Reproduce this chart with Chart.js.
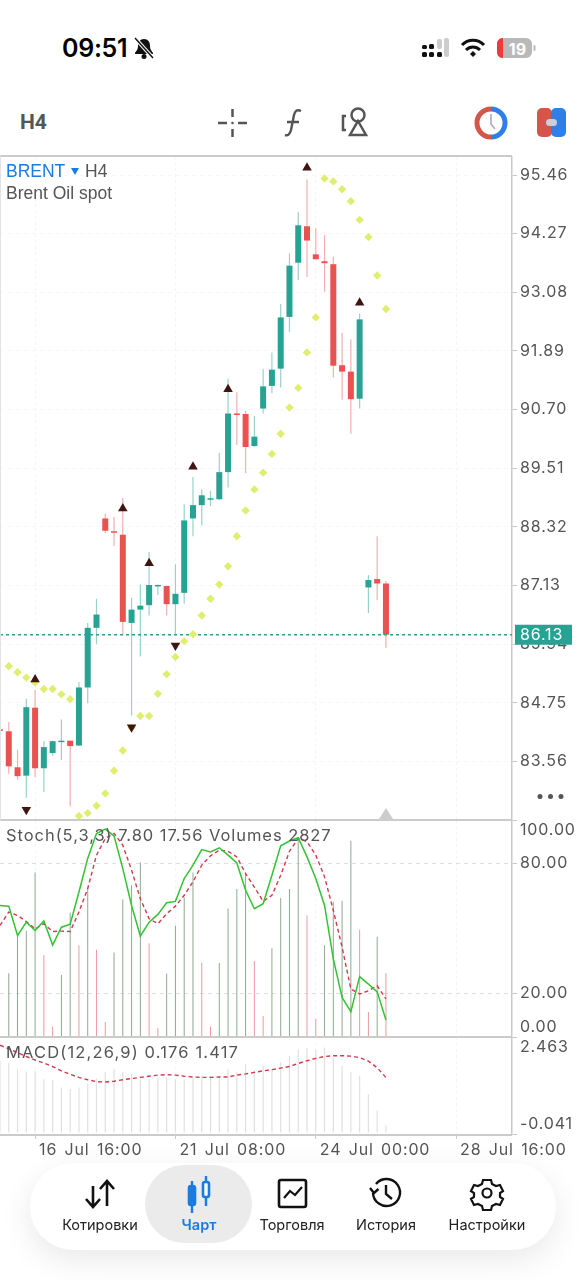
<!DOCTYPE html>
<html lang="ru">
<head>
<meta charset="utf-8">
<title>BRENT H4</title>
<script src="https://cdn.jsdelivr.net/npm/chart.js@4"></script>
<style>
  html, body { margin: 0; padding: 0; background: #fff; }
  body { position: relative; width: 588px; height: 1280px; overflow: hidden; font-family: "Liberation Sans", sans-serif; }
  canvas, .abs, svg.abs { position: absolute; }
  canvas { left: 0; display: block; }
  .hline { position: absolute; left: 0; width: 512px; height: 2px; background: #cbcbcb; }
  .panel-text { position: absolute; left: 6px; font: 16.5px Inter, sans-serif; color: #555; letter-spacing: .95px; white-space: pre; }
  .nav { position: absolute; left: 30px; top: 1163px; width: 526px; height: 87px; background: #fff; border-radius: 44px; box-shadow: 0 10px 32px rgba(0,0,0,.09); }
  .nav-sel { position: absolute; left: 145px; top: 1165px; width: 107px; height: 78px; background: #ebebeb; border-radius: 39px; }
  .nav-label { position: absolute; top: 1216px; font: 14.5px Inter, sans-serif; color: #222; transform: translateX(-50%); white-space: nowrap; }
</style>
</head>
<body>

<!-- status bar -->
<div class="abs" style="left:62px;top:33px;font:600 25px Inter,sans-serif;color:#000;letter-spacing:-.3px">09:51</div>
<svg class="abs" style="left:132px;top:36px" width="24" height="24" viewBox="0 0 24 24">
  <path d="M12 3c-4 0-6 3-6 7 0 4-2 5-3 7v1h18v-1c-1-2-3-3-3-7 0-4-2-7-6-7z" fill="#111"/>
  <circle cx="12" cy="20.5" r="2.5" fill="#111"/>
  <path d="M3 2l18 20" stroke="#fff" stroke-width="3.5"/><path d="M3 2l18 20" stroke="#111" stroke-width="1.5"/>
</svg>
<svg class="abs" style="left:420px;top:36px" width="120" height="24" viewBox="420 36 120 24">
  <rect x="422" y="45" width="5" height="4" rx="1.5" fill="#111"/><rect x="422" y="52" width="5" height="5" rx="1.5" fill="#111"/>
  <rect x="429" y="44" width="5" height="5" rx="1.5" fill="#111"/><rect x="429" y="52" width="5" height="5" rx="1.5" fill="#111"/>
  <rect x="437" y="39" width="5" height="10" rx="2" fill="#ccc"/><rect x="437" y="52" width="5" height="5" rx="1.5" fill="#111"/>
  <rect x="444" y="38" width="5" height="19" rx="2" fill="#ccc"/>
  <path d="M462 45c6-6.500 16-6.500 22 0" fill="none" stroke="#111" stroke-width="3"/>
  <path d="M466 50c4-4 10-4 14 0" fill="none" stroke="#111" stroke-width="3"/>
  <path d="M470 54l3-3 3 3-3 3z" fill="#111"/>
  <rect x="497" y="38" width="35" height="20" rx="6" fill="#b9b9b9"/>
  <path d="M503 38h-0c-4 0-6 3-6 6v8c0 3 2 6 6 6z" fill="#f03a3a"/>
  <rect x="533.500" y="45" width="2" height="6" rx="1" fill="#bbb"/>
</svg>
<div class="abs" style="left:503px;top:39px;width:29px;text-align:center;font:700 16px Inter,sans-serif;color:#fff">19</div>

<!-- toolbar -->
<div class="abs" style="left:20px;top:110px;font:700 21px Roboto,sans-serif;color:#555">H4</div>
<svg class="abs" style="left:210px;top:100px" width="370" height="46" viewBox="210 100 370 46" fill="none">
  <path d="M218 123h9M238 123h9M232.500 109v8M232.500 129v8" stroke="#555" stroke-width="2.500"/>
  <circle cx="232.500" cy="123" r="1.300" fill="#555"/>
  <path d="M301 111c-4-2-6 0-7 4l-3 15c-1 4-3 6-6 5M287 122h12" stroke="#555" stroke-width="2.400"/>
  <path d="M346 116h-3v14h3" stroke="#555" stroke-width="2.500"/>
  <circle cx="358" cy="115" r="6.500" stroke="#555" stroke-width="2.500"/>
  <path d="M358 121l8 14h-16z" stroke="#555" stroke-width="2.500" fill="#fff"/>
  <path d="M491 109a14 14 0 0 0 0 28" stroke="#d2564a" stroke-width="5"/>
  <path d="M491 109a14 14 0 0 1 0 28" stroke="#2f7fe8" stroke-width="5"/>
  <path d="M491 114v10l4 5" stroke="#aab" stroke-width="1.600"/>
  <rect x="537" y="108" width="15" height="29" rx="5" fill="#d2564a"/>
  <rect x="551" y="108" width="15" height="29" rx="5" fill="#2f7fe8"/>
  <rect x="546" y="119" width="11" height="7" rx="3.500" fill="#c9cfdb"/>
</svg>

<canvas id="priceChart" width="588" height="664" style="top:156px"></canvas>
<canvas id="stochChart" width="588" height="217" style="top:820px"></canvas>
<canvas id="macdChart" width="588" height="128" style="top:1037px"></canvas>

<div class="hline" style="top:155px"></div>
<div class="hline" style="top:819px"></div>
<div class="hline" style="top:1036px"></div>
<div class="hline" style="top:1134px"></div>
<div class="abs" style="left:0;top:156px;width:1px;height:664px;background:#e2e2e2"></div>

<!-- chart captions -->
<div class="abs" style="left:6px;top:161px;font:17.500px 'Liberation Sans',sans-serif;color:#1a7ce0;white-space:pre">BRENT</div>
<div class="abs" style="left:71px;top:168px;width:0;height:0;border-left:4px solid transparent;border-right:4px solid transparent;border-top:7px solid #1a7ce0"></div>
<div class="abs" style="left:85px;top:161px;font:17.500px 'Liberation Sans',sans-serif;color:#555">H4</div>
<div class="abs" style="left:6px;top:183px;font:17.500px 'Liberation Sans',sans-serif;color:#555">Brent Oil spot</div>
<div class="panel-text" style="top:825px">Stoch(5,3,3) 7.80 17.56 Volumes 2827</div>
<div class="panel-text" style="top:1042px;letter-spacing:1.15px">MACD(12,26,9) 0.176 1.417</div>
<svg class="abs" style="left:535px;top:790px" width="32" height="12"><circle cx="5" cy="6.500" r="2.500" fill="#555"/><circle cx="15.500" cy="6.500" r="2.500" fill="#555"/><circle cx="26" cy="6.500" r="2.500" fill="#555"/></svg>
<div class="abs" style="left:379px;top:808px;width:0;height:0;border-left:7px solid transparent;border-right:7px solid transparent;border-bottom:11px solid #ccc"></div>

<!-- bottom navigation -->
<div class="nav"></div>
<div class="nav-sel"></div>
<svg class="abs" style="left:70px;top:1170px" width="450" height="44" viewBox="70 1170 450 44" fill="none" stroke="#111" stroke-width="2.600">
  <path d="M93 1186v20M86 1199l7 8 7-8M107 1206v-24M100 1189l7-8 7 8"/>
  <path d="M192 1181v32M206 1176v30" stroke="#1a7ce0" stroke-width="2.400"/>
  <rect x="189" y="1186" width="6" height="19" rx="2" fill="#1a7ce0" stroke="#1a7ce0"/>
  <rect x="203" y="1182" width="6" height="15" rx="2" fill="#fff" stroke="#1a7ce0"/>
  <rect x="279" y="1180" width="27" height="27" rx="2"/>
  <path d="M284 1198l6-7 5 4 7-8" stroke-width="2.200"/>
  <path d="M376 1184a13.500 13.500 0 1 1-3 9M370 1188l4 5 4.500-4M386 1185v9l6 5" stroke-width="2.400"/>
  <circle cx="487" cy="1193" r="4.500" stroke-width="2.200"/>
  <path d="M483 1180h8l1 4 4 2 4-1 3 6-3 2v4l3 2-3 6-4-1-4 2-1 4h-8l-1-4-4-2-4 1-3-6 3-2v-4l-3-2 3-6 4 1 4-2z" stroke-width="2.200"/>
</svg>
<div class="nav-label" style="left:100px">Котировки</div>
<div class="nav-label" style="left:199px;color:#1a7ce0;font-weight:600">Чарт</div>
<div class="nav-label" style="left:292px">Торговля</div>
<div class="nav-label" style="left:386px">История</div>
<div class="nav-label" style="left:487px">Настройки</div>

<script>
/* ---------- price panel data ---------- */
const opens  = [84.20,84.17,83.44,83.27,84.65,83.42,83.73,83.95,83.98,83.88,85.06,86.27,88.49,88.22,88.16,86.37,86.64,86.73,87.11,87.12,86.75,86.98,88.49,88.76,88.87,88.88,89.43,90.62,90.61,89.96,90.72,91.18,91.53,92.58,93.68,94.42,93.85,93.71,93.65,91.60,91.47,90.92,87.09,87.26,87.17];
const highs  = [84.22,84.36,83.80,84.83,85.01,83.97,83.98,84.41,83.98,85.17,86.37,86.86,88.59,88.52,88.91,86.88,87.15,87.81,87.15,87.13,87.56,88.78,89.33,89.08,89.05,89.82,91.33,91.05,90.67,90.57,91.53,91.86,92.84,93.87,94.71,95.37,94.38,94.24,93.80,92.26,92.12,92.65,87.34,88.13,87.22];
const lows   = [84.16,83.31,83.19,82.82,83.24,82.94,83.68,83.59,82.65,83.88,84.74,85.94,88.19,87.93,86.12,84.49,85.69,86.52,86.93,86.52,86.12,86.76,88.13,88.35,88.74,88.86,89.12,89.98,89.41,89.94,90.62,91.03,91.15,92.27,93.33,93.39,93.75,93.09,91.35,90.90,90.21,90.72,86.57,86.83,85.86];
const closes = [84.18,83.46,83.26,84.66,83.42,83.85,83.97,83.98,83.87,85.06,86.27,86.54,88.24,88.20,86.39,86.64,86.72,87.14,87.13,86.75,86.96,88.45,88.76,88.96,88.89,89.43,90.62,90.59,89.94,90.15,91.17,91.51,92.57,93.62,94.44,94.13,93.75,93.67,91.59,91.47,90.91,92.53,87.24,87.17,86.13];
const sar    = [null,85.49,85.37,85.26,85.16,85.03,85.03,84.92,84.82,82.45,82.51,82.66,82.91,83.37,83.78,84.24,84.48,84.48,84.93,85.33,85.68,86.00,86.14,86.52,86.86,87.15,87.52,88.13,88.65,89.08,89.42,89.80,90.21,90.74,91.14,91.86,92.57,95.39,95.33,95.17,94.93,94.55,94.20,93.42,92.74];
const fractalUpIndex   = [4,14,17,22,26,35,41];
const fractalUpValue   = [85.22,88.69,87.58,89.54,91.11,95.61,92.87];
const fractalDownIndex = [3,15,20];
const fractalDownValue = [82.58,84.25,85.91];
const lastPrice  = 86.13;
const priceTicks = [95.46,94.27,93.08,91.89,90.70,89.51,88.32,87.13,85.94,84.75,83.56];

/* ---------- stochastic + volumes ---------- */
const stochMain   = [60.6,60.3,46.8,52.9,49.1,53.5,42.4,50.6,52.0,66.8,82.3,93.8,95.8,92.7,77.6,60.6,46.5,52.9,56.5,61.9,62.5,73.0,79.2,86.4,85.3,87.2,83.8,80.2,67.6,59.1,61.4,74.5,88.1,90.3,91.8,83.0,73.0,60.6,36.0,18.2,11.7,27.8,24.4,20.8,7.80];
const stochSignal = [51.4,57.6,56.0,53.2,49.8,52.2,48.6,48.8,48.6,57.6,68.4,83.8,91.5,93.8,88.4,76.9,63.7,54.5,52.2,56.8,60.3,65.3,71.5,79.2,83.5,86.1,85.6,83.0,75.3,69.1,62.5,65.3,74.5,85.6,91.5,90.0,83.8,73.8,58.3,41.4,22.1,19.8,21.3,23.6,17.56];
const volumes = [null,2827,4514,4706,7296,3626,459,2753,5520,4070,6630,3863,666,3744,6112,6734,7740,4159,385,2812,4928,6186,7296,3300,459,3286,5698,6556,7222,3374,932,3937,6157,6556,8850,5402,814,4070,5994,6038,8702,4751,1110,4440,2827];
const stochTicks = [100,80,20,0];

/* ---------- macd ---------- */
const macdBars   = [1.85,1.80,1.63,1.57,1.59,1.37,1.36,1.16,1.12,1.16,1.25,1.39,1.55,1.63,1.56,1.50,1.37,1.37,1.42,1.42,1.37,1.37,1.42,1.46,1.46,1.46,1.63,1.55,1.76,1.59,1.72,1.63,1.82,1.97,2.15,2.17,2.15,2.19,1.93,1.72,1.56,1.46,0.99,0.56,0.176];
const macdSignal = [2.25,2.16,2.06,1.96,1.87,1.79,1.70,1.59,1.50,1.42,1.36,1.31,1.30,1.32,1.36,1.39,1.42,1.45,1.48,1.49,1.48,1.45,1.43,1.42,1.42,1.43,1.43,1.48,1.51,1.55,1.59,1.62,1.66,1.70,1.78,1.85,1.91,1.96,1.98,1.98,1.97,1.93,1.84,1.67,1.417];
const macdTicks  = [2.463,-0.041];

/* ---------- time axis ---------- */
const xTickIndex  = [4,20,36,52];
const xTickLabels = ["16 Jul 16:00","21 Jul 08:00","24 Jul 00:00","28 Jul 16:00"];
const xMax = 58.37;

/* ---------- helpers ---------- */
const AXIS_FONT = { family: "Inter, sans-serif", size: 16 };
const AXIS_COLOR = "#555";
const LINE_COLOR = "#c9c9c9";
const UP = "#27a393", DOWN = "#ec5151", UP_WICK = "#9ad2c9", DOWN_WICK = "#f1b0ae";

const pts = arr => arr.map((y, x) => ({ x, y }));
const isUp = i => closes[i] >= opens[i];

function xAxis(showLabels) {
  return {
    type: "linear", min: 0, max: xMax, offset: false,
    afterBuildTicks: a => { a.ticks = xTickIndex.map(value => ({ value })); },
    ticks: {
      display: showLabels, autoSkip: false, maxRotation: 0, minRotation: 0,
      align: "start", labelOffset: 4, padding: 2,
      font: AXIS_FONT, color: AXIS_COLOR,
      callback: v => xTickLabels[xTickIndex.indexOf(v)]
    },
    grid: { offset: false, color: "#f5f5f5", drawTicks: showLabels, tickLength: 5, tickColor: LINE_COLOR },
    border: { display: false, dash: [3, 3] },
    afterFit: a => { a.paddingLeft = 0; a.paddingRight = 0; a.height = showLabels ? 31 : 0; }
  };
}

function yAxis(min, max, ticks, fmt, gridColor) {
  return {
    position: "right", min, max,
    afterBuildTicks: a => { a.ticks = ticks.map(value => ({ value })); },
    ticks: { autoSkip: false, padding: 3, font: AXIS_FONT, color: AXIS_COLOR, callback: fmt },
    grid: { color: gridColor, tickLength: 5, tickColor: LINE_COLOR },
    border: { color: LINE_COLOR, width: 1.5, dash: [4, 4] },
    afterFit: a => { a.width = 76; a.paddingTop = 0; a.paddingBottom = 0; }
  };
}

/* canvas text spacing like the terminal's axis font */
const spacing = {
  id: "spacing",
  beforeDraw(chart) { chart.ctx.letterSpacing = "0.85px"; chart.ctx.wordSpacing = "2px"; }
};

/* 100.00 / 0.00 style labels sit inside the panel, not on their tick */
const edgeLabels = {
  id: "edgeLabels",
  afterDraw(chart, args, opts) {
    const { ctx } = chart, y = chart.scales.y;
    ctx.save();
    ctx.font = `${AXIS_FONT.size}px ${AXIS_FONT.family}`;
    ctx.fillStyle = AXIS_COLOR;
    ctx.textBaseline = "middle";
    opts.items.forEach(it => ctx.fillText(it.label, y.left + 8, y.getPixelForValue(it.value) + it.shift));
    ctx.restore();
  }
};

/* current price tag */
const priceTag = {
  id: "priceTag",
  afterDraw(chart) {
    const { ctx } = chart, y = chart.scales.y, py = y.getPixelForValue(lastPrice);
    ctx.save();
    ctx.fillStyle = UP;
    ctx.fillRect(515, py - 10, 57, 20);
    ctx.font = `${AXIS_FONT.size}px ${AXIS_FONT.family}`;
    ctx.fillStyle = "#fff";
    ctx.textBaseline = "middle";
    ctx.fillText(lastPrice.toFixed(2), 520, py + 0.5);
    ctx.restore();
  }
};

const baseOptions = {
  responsive: false, animation: false, devicePixelRatio: 1,
  layout: { padding: 0, autoPadding: false },
  plugins: { legend: { display: false }, tooltip: { enabled: false } }
};

/* ---------- price chart ---------- */
new Chart(document.getElementById("priceChart"), {
  type: "bar",
  plugins: [spacing, priceTag],
  data: {
    datasets: [
      { label: "Wick", grouped: false, order: 5, barThickness: 1.2, inflateAmount: 0,
        data: highs.map((h, i) => ({ x: i, y: [lows[i], h] })),
        backgroundColor: highs.map((h, i) => isUp(i) ? UP_WICK : DOWN_WICK) },
      { label: "Body", grouped: false, order: 4, barThickness: 6, minBarLength: 1.5, inflateAmount: 0,
        data: opens.map((o, i) => ({ x: i, y: [Math.min(o, closes[i]), Math.max(o, closes[i])] })),
        backgroundColor: opens.map((o, i) => isUp(i) ? UP : DOWN) },
      { label: "Last", type: "line", order: 3, data: [{ x: 0, y: lastPrice }, { x: xMax, y: lastPrice }],
        borderColor: UP, borderWidth: 1.3, borderDash: [3, 3], pointRadius: 0 },
      { label: "SAR", type: "line", order: 2, data: pts(sar), showLine: false,
        pointStyle: "rectRot", pointRadius: 4.2, pointBackgroundColor: "#dfee6f", pointBorderWidth: 0 },
      { label: "Fractals up", type: "line", order: 1, showLine: false,
        data: fractalUpIndex.map((x, i) => ({ x, y: fractalUpValue[i] })),
        pointStyle: "triangle", pointRadius: 5.5, pointBackgroundColor: "#3e1510", pointBorderWidth: 0 },
      { label: "Fractals down", type: "line", order: 1, showLine: false,
        data: fractalDownIndex.map((x, i) => ({ x, y: fractalDownValue[i] })),
        pointStyle: "triangle", pointRotation: 180, pointRadius: 5.5, pointBackgroundColor: "#3e1510", pointBorderWidth: 0 }
    ]
  },
  options: {
    ...baseOptions,
    scales: {
      x: xAxis(false),
      y: yAxis(82.37, 95.846, priceTicks, v => v.toFixed(2), "#f6f6f6")
    }
  }
});

/* ---------- stochastic chart ---------- */
new Chart(document.getElementById("stochChart"), {
  type: "bar",
  plugins: [spacing, edgeLabels],
  data: {
    datasets: [
      { label: "Volumes", yAxisID: "vol", order: 3, grouped: false, barThickness: 1, inflateAmount: 0,
        data: pts(volumes),
        backgroundColor: volumes.map((v, i) => (i > 1 && v < volumes[i - 1]) ? "#ec9ba1" : "#8dab8f") },
      { label: "Signal", type: "line", order: 2, data: pts(stochSignal),
        borderColor: "#d23a50", borderWidth: 1.4, borderDash: [4, 3], pointRadius: 0 },
      { label: "Main", type: "line", order: 1, data: pts(stochMain),
        borderColor: "#33c233", borderWidth: 1.5, pointRadius: 0 }
    ]
  },
  options: {
    ...baseOptions,
    plugins: {
      ...baseOptions.plugins,
      edgeLabels: { items: [{ label: "100.00", value: 100, shift: 10 }, { label: "0.00", value: 0, shift: -10 }] }
    },
    scales: {
      x: xAxis(false),
      y: yAxis(0, 100, stochTicks, v => (v === 100 || v === 0) ? "" : v.toFixed(2), "#dedede"),
      vol: { display: false, min: 0, max: 9620 }
    }
  }
});

/* ---------- macd chart ---------- */
new Chart(document.getElementById("macdChart"), {
  type: "bar",
  plugins: [spacing, edgeLabels],
  data: {
    datasets: [
      { label: "MACD", order: 2, grouped: false, barThickness: 1.2, inflateAmount: 0,
        data: pts(macdBars), backgroundColor: "#e0e0e0" },
      { label: "Signal", type: "line", order: 1, data: pts(macdSignal),
        borderColor: "#d23a50", borderWidth: 1.4, borderDash: [4, 3], pointRadius: 0 }
    ]
  },
  options: {
    ...baseOptions,
    plugins: {
      ...baseOptions.plugins,
      edgeLabels: { items: [{ label: "2.463", value: 2.463, shift: 10 }, { label: "-0.041", value: -0.041, shift: -10 }] }
    },
    scales: {
      x: xAxis(true),
      y: yAxis(-0.041, 2.463, macdTicks, () => "", "#f6f6f6")
    }
  }
});
</script>
</body>
</html>
